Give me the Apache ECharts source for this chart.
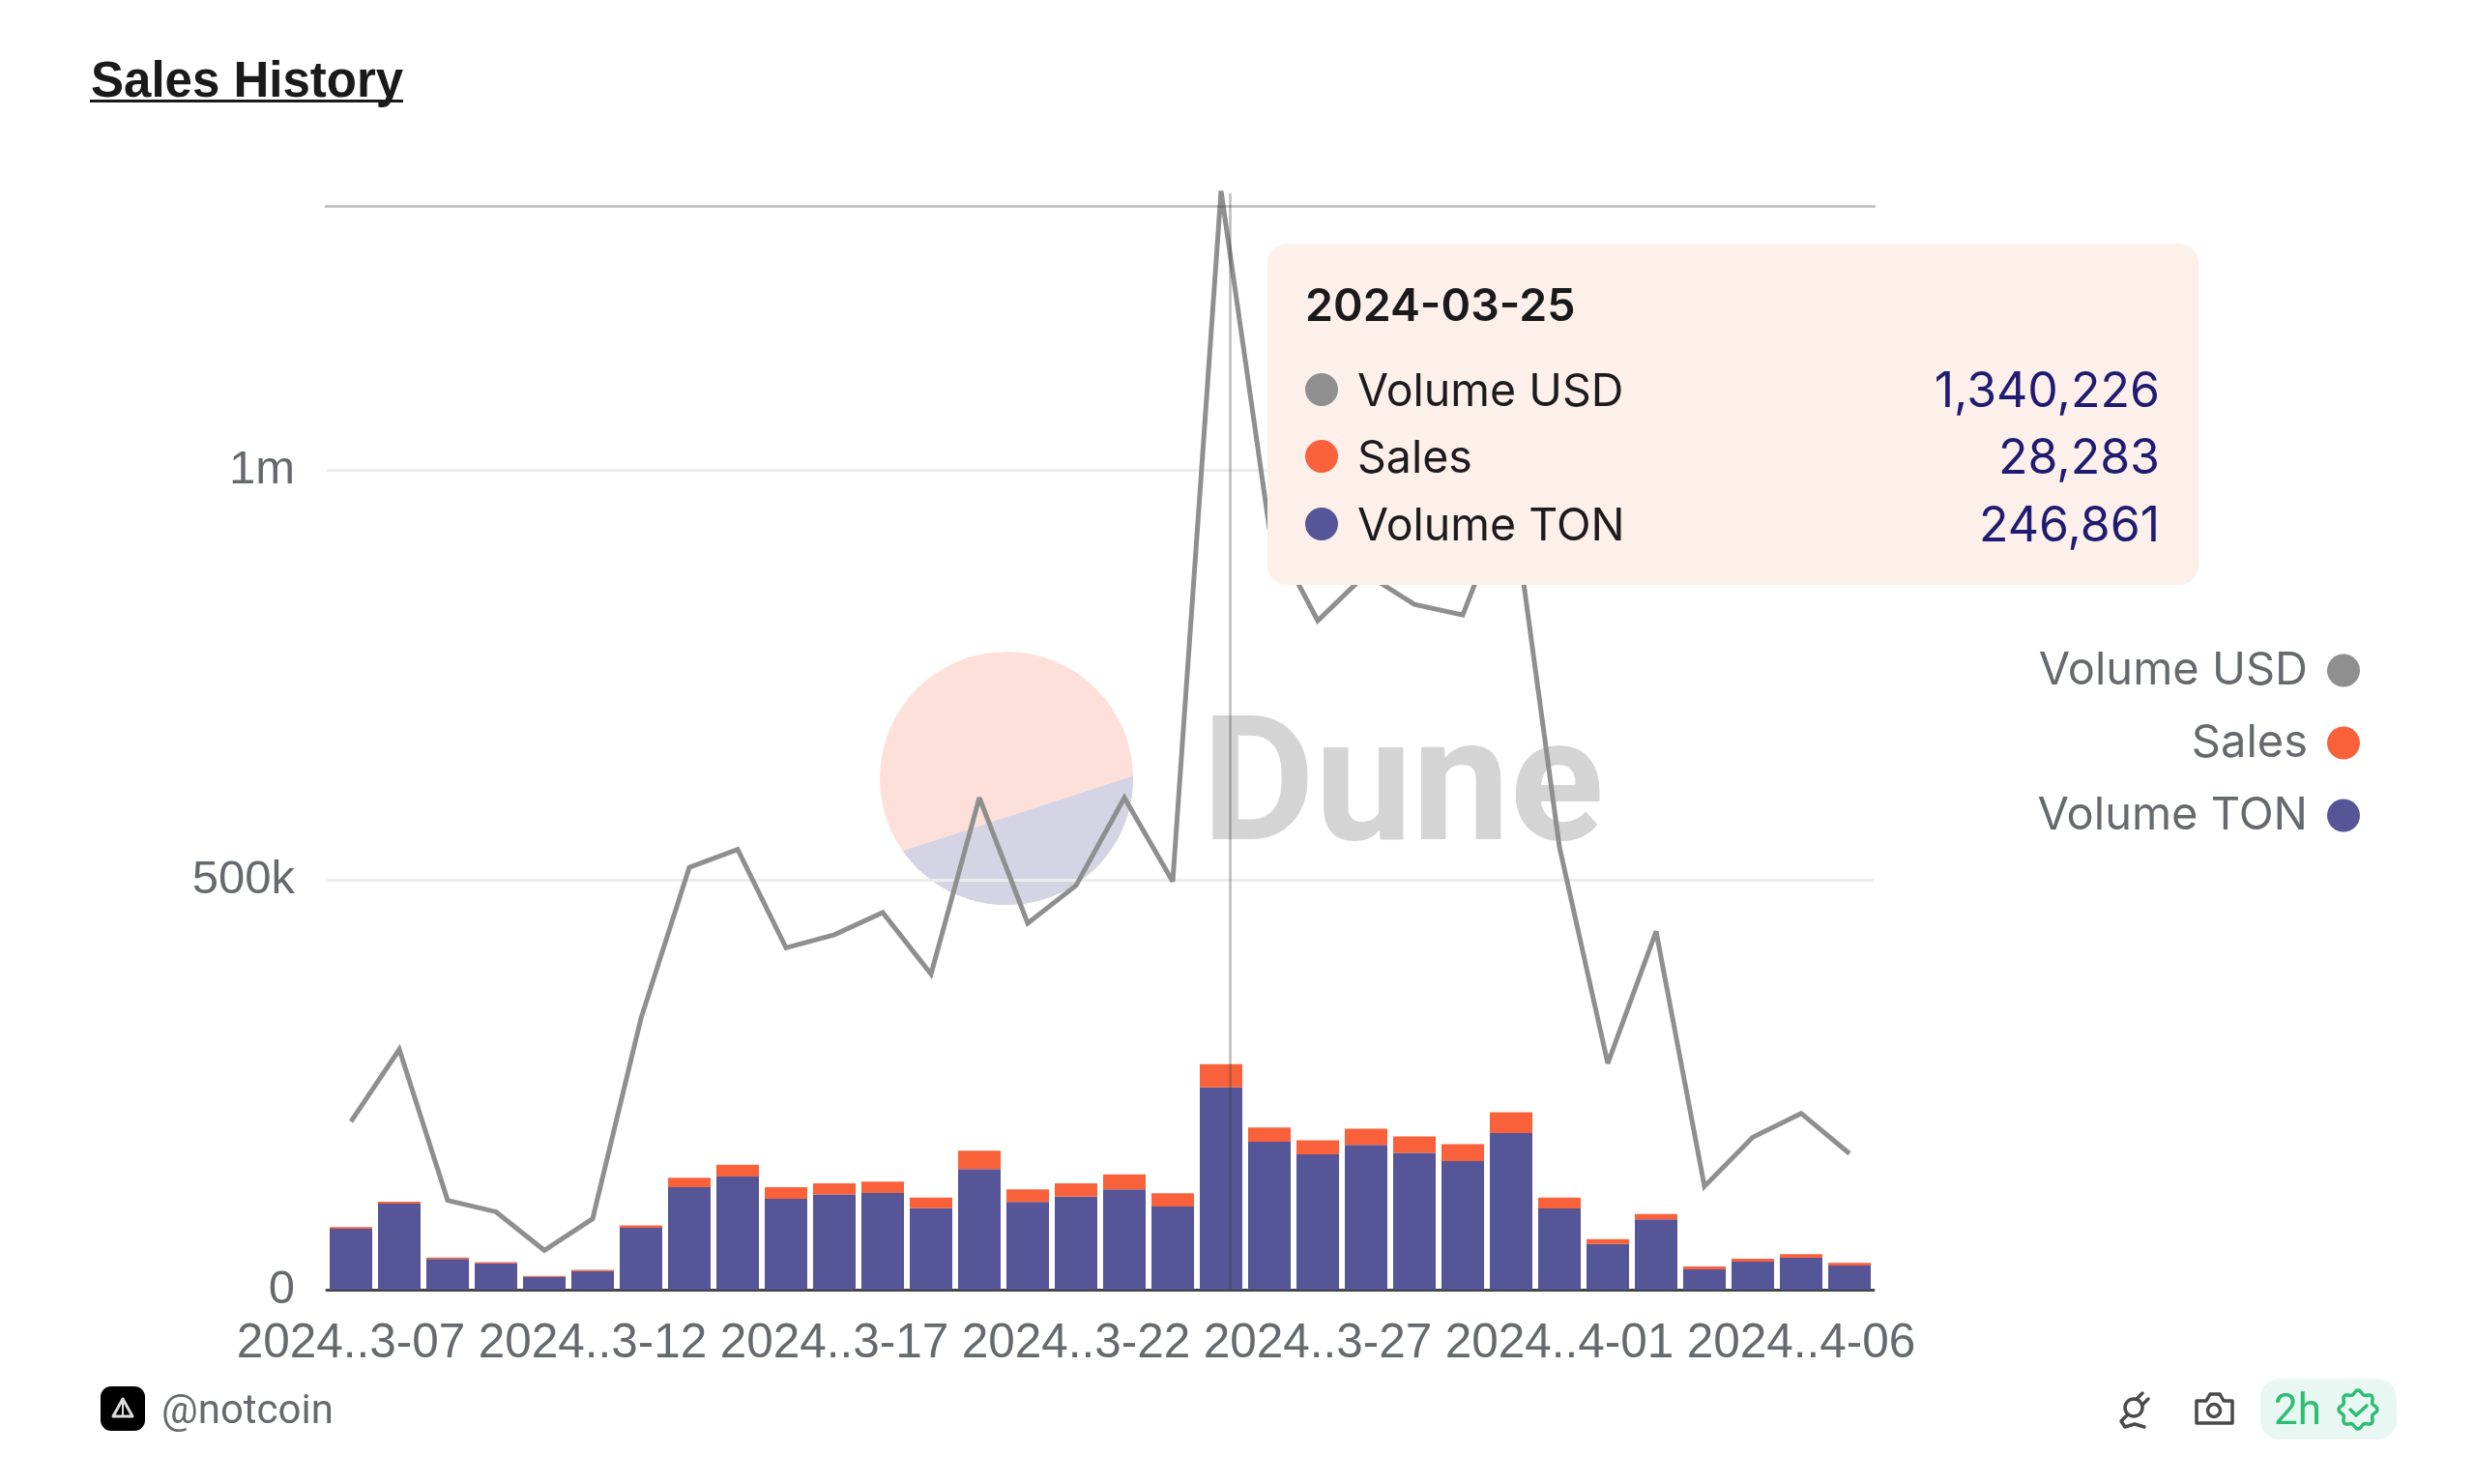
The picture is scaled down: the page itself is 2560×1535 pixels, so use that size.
<!DOCTYPE html>
<html>
<head>
<meta charset="utf-8">
<title>Sales History</title>
<script src="https://cdn.jsdelivr.net/npm/echarts@6/dist/echarts.min.js"></script>
<style>
  html, body { margin: 0; padding: 0; background: #fff; }
  #chart { width: 2560px; height: 1535px; }
</style>
</head>
<body>
<div id="chart"></div>
<script>
// values, 03-25 is exact because the tooltip shows it
const dates = [
  '2024-03-07', '2024-03-08', '2024-03-09', '2024-03-10', '2024-03-11', '2024-03-12', '2024-03-13', '2024-03-14',
  '2024-03-15', '2024-03-16', '2024-03-17', '2024-03-18', '2024-03-19', '2024-03-20', '2024-03-21', '2024-03-22',
  '2024-03-23', '2024-03-24', '2024-03-25', '2024-03-26', '2024-03-27', '2024-03-28', '2024-03-29', '2024-03-30',
  '2024-03-31', '2024-04-01', '2024-04-02', '2024-04-03', '2024-04-04', '2024-04-05', '2024-04-06', '2024-04-07'
];
const volumeUsd = [
  205000, 293000, 109000, 95000, 48000, 86500, 331000, 515000,
  537000, 417000, 433000, 460000, 385000, 600000, 447000, 493000,
  600000, 498000, 1340226, 928000, 816000, 873000, 836000, 823000,
  975000, 540000, 276000, 437000, 126000, 186000, 215000, 166000
];
const sales = [
  2000, 2500, 2000, 1500, 1000, 1500, 3000, 11400,
  14500, 14100, 13400, 13800, 13000, 22400, 15300, 16100,
  18500, 16100, 28283, 17300, 17300, 19700, 20000, 20800,
  25500, 13400, 5900, 6700, 3500, 3500, 4300, 3100
];
const volumeTon = [
  74300, 104900, 37300, 32200, 15700, 22800, 75500, 125000,
  138000, 110800, 116300, 117900, 99400, 147000, 106900, 113600,
  122200, 101400, 246861, 180400, 165000, 176500, 167000, 156800,
  191000, 99000, 55800, 85700, 24800, 34200, 38900, 29500
];
const hoverIndex = 18;

const GREY = '#8f8f8f';
const ORANGE = '#f9613b';
const PURPLE = '#555598';
const LABEL = '#666a6e';
const UI_FONT = 'Inter';
const TICK_FONT = '"Liberation Sans"';

function shortDate(value) {
  return value.slice(0, 4) + '..' + value.slice(6);
}

function formatTick(value) {
  if (value === 0) return '0';
  if (value >= 1000000) return value / 1000000 + 'm';
  return value / 1000 + 'k';
}

// Tooltip rows in legend order
function tooltipHtml() {
  const rows = [
    ['Volume USD', GREY, volumeUsd],
    ['Sales', ORANGE, sales],
    ['Volume TON', PURPLE, volumeTon]
  ];
  let html = '<div style="font:600 46.5px ' + UI_FONT + ';color:#1a1a1a;line-height:54px;margin-bottom:26px">' + dates[hoverIndex] + '</div>';
  rows.forEach(r => {
    html += '<div style="display:flex;align-items:center;height:69.5px;font:400 46.5px ' + UI_FONT + ';color:#1c1c1c">'
      + '<span style="width:34px;height:34px;border-radius:50%;background:' + r[1] + ';margin-right:20px"></span>'
      + '<span style="flex:1">' + r[0] + '</span>'
      + '<span style="color:#1f1c72;font-size:50px">' + r[2][hoverIndex].toLocaleString('en-US') + '</span></div>';
  });
  return html;
}

// Dune logo: lower slice of the circle, points walk the arc between the two cut angles
function logoSlice(cx, cy, r, fromDeg, toDeg) {
  const pts = [];
  for (let a = fromDeg; a <= toDeg; a += 2) {
    const rad = a * Math.PI / 180;
    pts.push([cx + r * Math.cos(rad), cy + r * Math.sin(rad)]);
  }
  return pts;
}

// Wavy badge outline for the freshness tick
function badgeOutline(cx, cy, r) {
  const pts = [];
  for (let a = 0; a < 360; a += 5) {
    const rad = a * Math.PI / 180;
    const rr = r + 2 * Math.cos(8 * rad);
    pts.push([cx + rr * Math.cos(rad), cy + rr * Math.sin(rad)]);
  }
  return pts;
}

const footerStroke = { stroke: '#4a4a4a', fill: null, lineWidth: 3.5, lineCap: 'round', lineJoin: 'round' };
const greenStroke = { stroke: '#2dbd74', fill: null, lineWidth: 3.5, lineCap: 'round', lineJoin: 'round' };

const graphics = [
  // watermark
  { type: 'circle', z: 0, shape: { cx: 1041, cy: 805, r: 131 }, style: { fill: '#fde0d9' } },
  { type: 'polygon', z: 0, shape: { points: logoSlice(1041, 805, 131, -1, 146) }, style: { fill: '#d4d4e4' } },
  { type: 'text', z: 0, x: 1243, y: 823, style: { text: 'Dune', font: '700 180px Roboto', fill: '#d4d4d4', verticalAlign: 'middle' } },
  // title underline
  { type: 'rect', shape: { x: 93, y: 103, width: 324, height: 3 }, style: { fill: '#1a1a1a' } },
  // footer left
  { type: 'rect', shape: { x: 104, y: 1434, width: 46, height: 46, r: 11 }, style: { fill: '#000' } },
  { type: 'polygon', shape: { points: [[127, 1447], [137, 1465], [117, 1465]] }, style: { fill: '#000', stroke: '#ddd', lineWidth: 3, lineJoin: 'round' } },
  { type: 'line', shape: { x1: 127, y1: 1449, x2: 127, y2: 1465 }, style: { stroke: '#ddd', lineWidth: 2 } },
  { type: 'text', x: 167, y: 1461, style: { text: '@notcoin', font: '400 42px Roboto', fill: LABEL, verticalAlign: 'middle' } },
  // plug icon
  { type: 'circle', shape: { cx: 2207, cy: 1456, r: 9 }, style: footerStroke },
  { type: 'line', shape: { x1: 2210, y1: 1447, x2: 2216, y2: 1441 }, style: footerStroke },
  { type: 'line', shape: { x1: 2216, y1: 1453, x2: 2222, y2: 1447 }, style: footerStroke },
  { type: 'polyline', shape: { points: [[2200, 1464], [2194, 1470], [2198, 1476], [2208, 1473], [2218, 1476]] }, style: footerStroke },
  // camera icon
  { type: 'polygon', shape: { points: [[2272, 1449], [2282, 1449], [2286, 1442], [2296, 1442], [2300, 1449], [2309, 1449], [2309, 1472], [2272, 1472]] }, style: footerStroke },
  { type: 'circle', shape: { cx: 2290, cy: 1459, r: 6.5 }, style: footerStroke },
  // freshness badge
  { type: 'rect', shape: { x: 2338, y: 1426, width: 141, height: 63, r: 20 }, style: { fill: '#e8f7f1' } },
  { type: 'text', x: 2352, y: 1462, style: { text: '2h', font: '400 44px Roboto', fill: '#2dbd74', verticalAlign: 'middle' } },
  { type: 'polygon', shape: { points: badgeOutline(2439, 1458, 18) }, style: greenStroke },
  { type: 'polyline', shape: { points: [[2431, 1458], [2437, 1464], [2448, 1454]] }, style: greenStroke }
];

const chartDom = document.getElementById('chart');
const myChart = echarts.init(chartDom);

const option = {
  animation: false,
  title: {
    text: 'Sales History',
    left: 89,
    top: 55,
    textStyle: { fontFamily: TICK_FONT, fontWeight: 'bold', fontSize: 51, color: '#1a1a1a' }
  },
  legend: {
    orient: 'vertical',
    right: 114,
    top: 665,
    align: 'right',
    icon: 'circle',
    itemWidth: 34,
    itemHeight: 34,
    itemGap: 28,
    selectedMode: false,
    data: ['Volume USD', 'Sales', 'Volume TON'],
    textStyle: { fontFamily: UI_FONT, fontSize: 47, color: LABEL, padding: [0, 15, 0, 0] }
  },
  tooltip: {
    trigger: 'axis',
    triggerOn: 'none',
    alwaysShowContent: true,
    transitionDuration: 0,
    axisPointer: { type: 'none' },
    position: [1311, 252],
    padding: [36, 40, 0, 39],
    backgroundColor: '#fdf0eb',
    borderWidth: 0,
    extraCssText: 'width:963px;height:353px;box-sizing:border-box;border-radius:20px;box-shadow:none',
    formatter: tooltipHtml
  },
  grid: { left: 338, right: 622, top: 62, bottom: 201 },
  xAxis: {
    type: 'category',
    data: dates,
    axisLine: { lineStyle: { color: '#444', width: 3 } },
    axisTick: { length: 2, alignWithLabel: false, lineStyle: { color: '#111', width: 2 } },
    axisLabel: {
      interval: 4,
      margin: 31,
      fontFamily: TICK_FONT,
      fontSize: 49.5,
      color: LABEL,
      hideOverlap: false,
      formatter: shortDate
    }
  },
  yAxis: {
    type: 'value',
    min: 0,
    max: 1500000,
    interval: 500000,
    axisLine: { show: false },
    axisTick: { show: false },
    splitLine: { showMaxLine: false, lineStyle: { color: '#ececec', width: 3 } },
    axisLabel: {
      margin: 33,
      showMaxLabel: false,
      fontFamily: TICK_FONT,
      fontSize: 49,
      color: LABEL,
      formatter: formatTick
    }
  },
  graphic: graphics,
  series: [
    {
      name: 'Volume USD',
      type: 'line',
      data: volumeUsd,
      z: 4,
      symbol: 'none',
      emphasis: { disabled: true },
      itemStyle: { color: GREY },
      lineStyle: { color: GREY, width: 5, join: 'miter', miterLimit: 3 },
      markLine: {
        silent: true,
        symbol: 'none',
        animation: false,
        label: { show: false },
        lineStyle: { color: 'rgba(60,60,60,0.35)', width: 2.5, type: 'solid' },
        // crosshair from the hover, it sits where the mouse was and not on the bar centre
        data: [
          [{ x: 336, y: 213 }, { x: 1940, y: 213 }],
          [{ x: 1272, y: 200 }, { x: 1272, y: 1334 }]
        ]
      }
    },
    {
      name: 'Volume TON',
      type: 'bar',
      stack: 'total',
      data: volumeTon,
      barWidth: 44,
      emphasis: { disabled: true },
      itemStyle: { color: PURPLE }
    },
    {
      name: 'Sales',
      type: 'bar',
      stack: 'total',
      data: sales,
      barWidth: 44,
      emphasis: { disabled: true },
      itemStyle: { color: ORANGE }
    }
  ]
};

myChart.setOption(option);
myChart.dispatchAction({ type: 'showTip', seriesIndex: 0, dataIndex: hoverIndex });
</script>
</body>
</html>
